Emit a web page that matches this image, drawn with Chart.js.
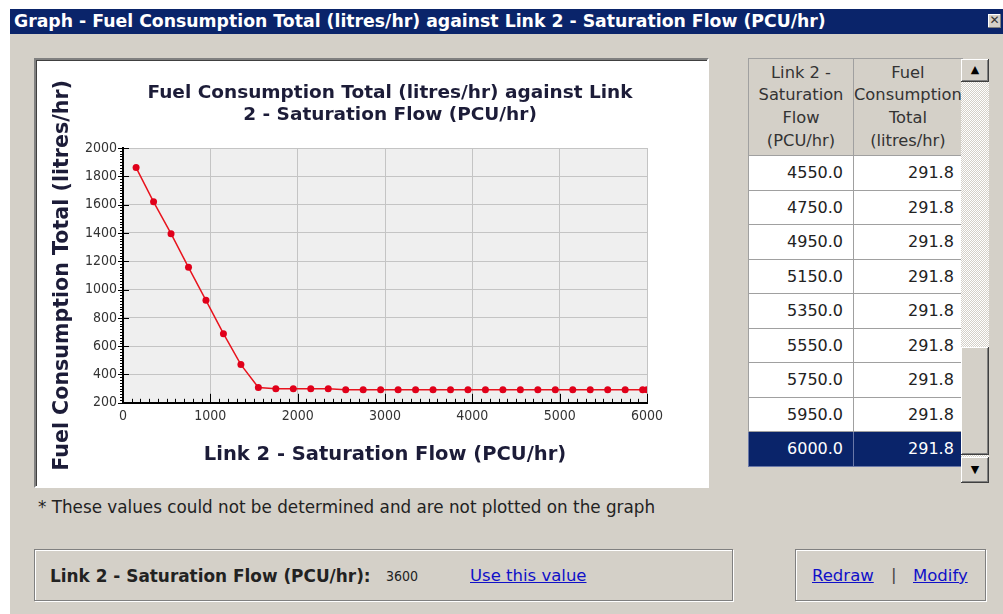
<!DOCTYPE html>
<html>
<head>
<meta charset="utf-8">
<script src="https://cdn.jsdelivr.net/npm/chart.js@4/dist/chart.umd.min.js"></script>
<style>
    body { margin: 0; width: 1003px; height: 614px; overflow: hidden; background: #fff; position: relative;
           font-family: "DejaVu Sans", sans-serif; color: #222; }
    .abs { position: absolute; }
    .dlg { left: 10px; top: 9px; right: 0; bottom: 0; background: #d4d0c8; }
    .cap { left: 10px; top: 9px; right: 0; height: 25px; background: #0a246a; color: #fff;
           font-weight: bold; font-size: 17.3px; line-height: 25px; padding-left: 4px; white-space: nowrap; }
    .close { left: 988px; top: 14px; width: 13px; height: 14px; background: #d4d0c8; color: #333;
             font-size: 12px; line-height: 13px; text-align: center; box-shadow: inset -1px -1px #808080, inset 1px 1px #fff; }
    .panel { left: 34px; top: 58px; width: 675px; height: 430px; background: #fff; box-sizing: border-box;
             border: 2px solid; border-color: #808080 #fff #fff #808080; box-shadow: inset 1px 1px #404040; }
    #chart { left: 36px; top: 61px; }
    table.grid { position: absolute; left: 748px; top: 58px; border-collapse: collapse; table-layout: fixed; }
    table.grid th, table.grid td { border: 1px solid #a0a0a0; padding: 0; }
    table.grid th { background: #d4d0c8; font-weight: normal; font-size: 16.3px; line-height: 22.7px;
                    height: 96px; color: #333; overflow: hidden; }
    table.grid th .ln { display: flex; justify-content: center; overflow: hidden; white-space: nowrap; }
    table.grid td { background: #fff; height: 33.5px; font-size: 16px; text-align: right; color: #222; }
    table.grid td.c1 { padding-right: 10px; }
    table.grid td.c2 { padding-right: 8px; }
    table.grid tr.sel td { background: #0a246a; color: #fff; border-color: #6a78a8; }
    .sb { left: 961px; top: 59px; width: 28px; height: 424px;
          background: repeating-conic-gradient(#d4d0c8 0 25%, #fff 0 50%) 0 0 / 2px 2px; }
    .sbtn { left: 961px; width: 28px; background: #d4d0c8; box-sizing: border-box; text-align: center;
            font-size: 11px; color: #000; box-shadow: inset -1px -1px #404040, inset 1px 1px #fff, inset -2px -2px #808080; }
    .note { left: 38px; top: 497px; font-size: 16.8px; color: #222; white-space: nowrap; }
    .box { box-sizing: border-box; border: 1px solid #808080; box-shadow: inset 1px 1px #fff, 1px 1px #fff; }
    .lbl { font-size: 16.5px; white-space: nowrap; }
    a { color: #1010c8; text-decoration: underline; }
</style>
</head>
<body>
<div class="abs dlg"></div>
<div class="abs cap">Graph - Fuel Consumption Total (litres/hr) against Link 2 - Saturation Flow (PCU/hr)</div>
<div class="abs close">&#x2715;</div>
<div class="abs panel"></div>
<canvas id="chart" class="abs" width="698" height="424"></canvas>
<table class="grid" id="grid"></table>
<div class="abs sb"></div>
<div class="abs sbtn" style="top:59px;height:23px;line-height:22px;">&#9650;</div>
<div class="abs sbtn" style="top:347px;height:108px;"></div>
<div class="abs sbtn" style="top:457px;height:26px;line-height:26px;">&#9660;</div>
<div class="abs note">* These values could not be determined and are not plotted on the graph</div>
<div class="abs box" style="left:34px;top:549px;width:699px;height:52px;"></div>
<div class="abs box" style="left:795px;top:549px;width:191px;height:52px;"></div>
<div class="abs lbl" style="left:50px;top:566px;font-weight:bold;font-size:16.9px;">Link 2 - Saturation Flow (PCU/hr):</div>
<div class="abs lbl" style="left:386px;top:568px;font-size:14px;font-family:'DejaVu Sans Condensed','DejaVu Sans';">3600</div>
<div class="abs lbl" style="left:470px;top:566px;"><a>Use this value</a></div>
<div class="abs lbl" style="left:812px;top:566px;"><a>Redraw</a></div>
<div class="abs lbl" style="left:891px;top:565px;color:#444;">|</div>
<div class="abs lbl" style="left:913px;top:566px;"><a>Modify</a></div>

<script>
    /* ========= DATA ========= */
    var satFlow = [150, 350, 550, 750, 950, 1150, 1350, 1550, 1750, 1950, 2150, 2350, 2550, 2750,
        2950, 3150, 3350, 3550, 3750, 3950, 4150, 4350, 4550, 4750, 4950, 5150, 5350, 5550,
        5750, 5950, 6000];
    var fuelTotal = [1862, 1620, 1395, 1157, 924, 688, 470, 308, 300, 300, 299, 299, 291.8, 291.8,
        291.8, 291.8, 291.8, 291.8, 291.8, 291.8, 291.8, 291.8, 291.8, 291.8, 291.8, 291.8, 291.8, 291.8,
        291.8, 291.8, 291.8];
    var xTicks = [0, 1000, 2000, 3000, 4000, 5000, 6000];
    var yTicks = [200, 400, 600, 800, 1000, 1200, 1400, 1600, 1800, 2000];
    var headFlow = ['Link 2 -', 'Saturation', 'Flow', '(PCU/hr)'];
    var headFuel = ['Fuel', 'Consumption', 'Total', '(litres/hr)'];
    var tableRows = 9;

    var FONT = '"DejaVu Sans", sans-serif';
    var TICKFONT = '"DejaVu Sans Condensed", "DejaVu Sans", sans-serif';
    var ink = '#1c1c38';

    /* ========= TABLE ========= */
    function headCell(lines) {
        return '<th>' + lines.map(function (t) { return '<div class="ln"><span>' + t + '</span></div>'; }).join('') + '</th>';
    }
    var grid = document.getElementById('grid');
    var html = '<colgroup><col style="width:105px"><col style="width:106px"></colgroup>' +
        '<tr>' + headCell(headFlow) + headCell(headFuel) + '</tr>';
    for (var i = satFlow.length - tableRows; i < satFlow.length; i++) {
        var cls = (i === satFlow.length - 1) ? ' class="sel"' : '';
        html += '<tr' + cls + '><td class="c1">' + satFlow[i].toFixed(1) + '</td><td class="c2">' +
            fuelTotal[i].toFixed(1) + '</td></tr>';
    }
    grid.innerHTML = html;

    /* ========= PLOT FRAME + TICK MARKS ========= */
    var frame = {
        id: 'frame',
        beforeDraw: function (chart) {
            var a = chart.chartArea, ctx = chart.ctx;
            ctx.save();
            ctx.fillStyle = '#efefef';
            ctx.fillRect(a.left, a.top, a.right - a.left, a.bottom - a.top);
            ctx.restore();
        },
        afterDraw: function (chart) {
            var a = chart.chartArea, ctx = chart.ctx;
            var xs = chart.scales.x, ys = chart.scales.y;
            ctx.save();
            ctx.strokeStyle = '#000';
            ctx.lineWidth = 1;
            ctx.beginPath();
            for (var v = 0; v <= 6000; v += 100) {
                var px = Math.round(xs.getPixelForValue(v)) + 0.5;
                var len = (v % 1000 === 0) ? 9 : 4;
                ctx.moveTo(px, a.bottom);
                ctx.lineTo(px, a.bottom - len);
            }
            for (var w = 200; w <= 2000; w += 20) {
                var py = Math.round(ys.getPixelForValue(w)) + 0.5;
                var major = (w % 200 === 0);
                ctx.moveTo(a.left - (major ? 5 : 3), py);
                ctx.lineTo(a.left + (major ? 6 : 0), py);
            }
            ctx.stroke();
            ctx.restore();
        }
    };

    /* ========= CHART ========= */
    var points = satFlow.map(function (x, i) { return { x: x, y: fuelTotal[i] }; });
    var plain = function (v) { return String(v); };

    new Chart(document.getElementById('chart'), {
        type: 'line',
        data: {
            datasets: [{
                data: points,
                borderColor: '#e8141e',
                backgroundColor: '#e0001a',
                borderWidth: 1.5,
                pointRadius: 3.5,
                pointBorderWidth: 0,
                tension: 0
            }]
        },
        options: {
            responsive: false,
            animation: false,
            layout: { padding: { left: 10, right: 0, top: 0, bottom: 14 } },
            plugins: {
                legend: { display: false },
                tooltip: { enabled: false },
                title: {
                    display: true,
                    text: ['Fuel Consumption Total (litres/hr) against Link', '2 - Saturation Flow (PCU/hr)'],
                    color: ink,
                    font: { family: FONT, size: 18.5, weight: 'bold', lineHeight: '22px' },
                    padding: { top: 21, bottom: 22 }
                }
            },
            scales: {
                x: {
                    type: 'linear', min: 0, max: 6000,
                    afterBuildTicks: function (s) { s.ticks = xTicks.map(function (v) { return { value: v }; }); },
                    grid: { color: '#c4c4c4', drawTicks: false },
                    border: { color: '#000', width: 2 },
                    ticks: { padding: 5, color: '#333', font: { family: TICKFONT, size: 14 }, callback: plain },
                    title: { display: true, text: 'Link 2 - Saturation Flow (PCU/hr)', color: ink,
                             font: { family: FONT, size: 19.5, weight: 'bold' }, padding: { top: 14, bottom: 4 } }
                },
                y: {
                    min: 200, max: 2000,
                    afterBuildTicks: function (s) { s.ticks = yTicks.map(function (v) { return { value: v }; }); },
                    afterFit: function (s) { s.width = 77; },
                    grid: { color: '#c4c4c4', drawTicks: false },
                    border: { color: '#000', width: 2 },
                    ticks: { padding: 6, color: '#333', font: { family: TICKFONT, size: 14 }, callback: plain },
                    title: { display: true, text: 'Fuel Consumption Total (litres/hr)', color: ink,
                             font: { family: FONT, size: 20.6, weight: 'bold' }, padding: { top: 4, bottom: 4 } }
                },
                spare: {
                    position: 'right',
                    afterFit: function (s) { s.width = 87; },
                    grid: { display: false },
                    border: { display: false },
                    ticks: { display: false }
                }
            }
        },
        plugins: [frame]
    });
</script>
</body>
</html>
